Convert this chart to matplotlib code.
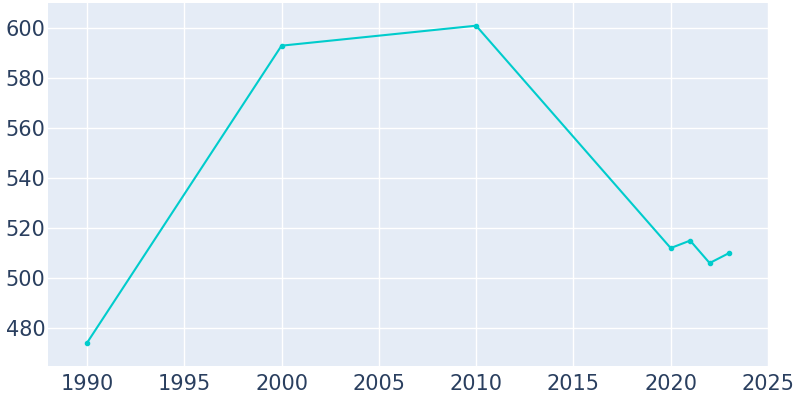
import matplotlib
matplotlib.use("Agg")
import matplotlib.pyplot as plt

years = [1990, 2000, 2010, 2020, 2021, 2022, 2023]
population = [474, 593, 601, 512, 515, 506, 510]

fig = plt.figure(figsize=(8, 4), dpi=100)
ax = fig.add_axes([0.06, 0.085, 0.9, 0.907])
ax.set_facecolor('#e5ecf6')
ax.plot(years, population, color='#00cccc', linewidth=1.5, marker='o', markersize=3)

ax.set_xlim(1988, 2025)
ax.set_ylim(464.8, 610)
ax.set_xticks(range(1990, 2026, 5))
ax.set_yticks(range(480, 601, 20))
ax.grid(True, color='white', linewidth=1)
ax.set_axisbelow(True)
for s in ax.spines.values():
    s.set_visible(False)
ax.tick_params(length=0, labelsize=15, colors='#2a3f5f')
ax.tick_params(axis='y', pad=2)
ax.tick_params(axis='x', pad=6)

fig.savefig('out.png', dpi=100)
